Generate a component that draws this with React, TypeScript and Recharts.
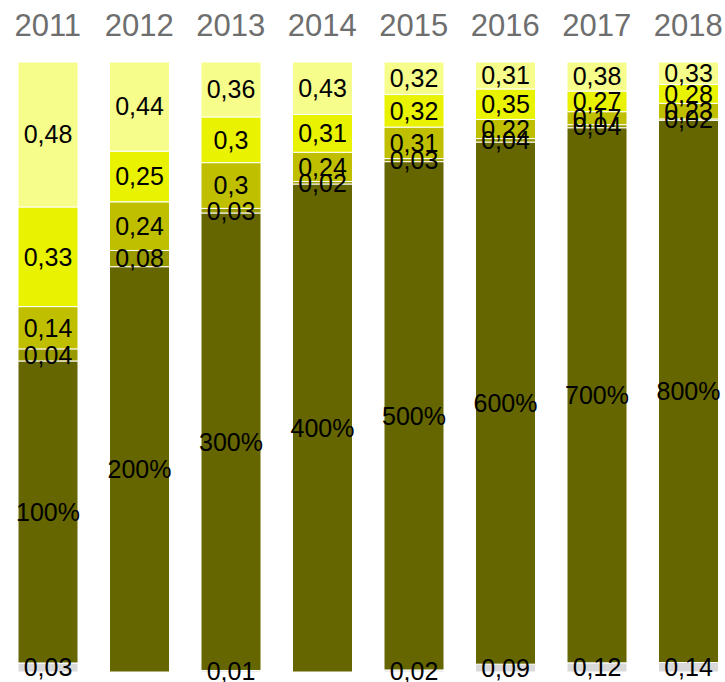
import React from "react";
import { Bar, BarChart, LabelList, XAxis, YAxis } from "recharts";

const years = ["2011", "2012", "2013", "2014", "2015", "2016", "2017", "2018"];

// stacked bottom -> top
const greyBase = [0.03, 0, 0.01, 0, 0.02, 0.09, 0.12, 0.14];
const mainShare = [1, 2, 3, 4, 5, 6, 7, 8];
const darkPart = [0.04, 0.08, 0.03, 0.02, 0.03, 0.04, 0.04, 0.02];
const olivePart = [0.14, 0.24, 0.3, 0.24, 0.31, 0.22, 0.17, 0.23];
const yellowPart = [0.33, 0.25, 0.3, 0.31, 0.32, 0.35, 0.27, 0.28];
const paleParts = [0.48, 0.44, 0.36, 0.43, 0.32, 0.31, 0.38, 0.33];

const data = years.map((year, i) => ({
  year,
  grey: greyBase[i],
  main: mainShare[i],
  dark: darkPart[i],
  olive: olivePart[i],
  yellow: yellowPart[i],
  pale: paleParts[i],
}));

const series = [
  { key: "grey", color: "#d9d9d9" },
  { key: "main", color: "#666600" },
  { key: "dark", color: "#999900" },
  { key: "olive", color: "#bfbf00" },
  { key: "yellow", color: "#e9f200" },
  { key: "pale", color: "#f6fd8b" },
];

const fmtNum = (v: any) => (v ? String(v).replace(".", ",") : "");
const fmtPct = (v: any) => (v ? `${Math.round(v * 100)}%` : "");

export default function App() {
  return (
    <div
      style={{
        position: "absolute",
        left: 0,
        top: 0,
        width: 725,
        height: 682,
        overflow: "hidden",
        background: "#fff",
      }}
    >
      <BarChart
        width={736}
        height={682}
        data={data}
        stackOffset="expand"
        barSize={60}
        margin={{ top: 0, right: 2, bottom: 10, left: 2 }}
      >
        <XAxis
          dataKey="year"
          orientation="top"
          height={62}
          axisLine={false}
          tickLine={false}
          tickMargin={20}
          interval={0}
          tick={{ fill: "#6e6e6e", fontSize: 31, fontFamily: "Liberation Sans, Arial, sans-serif" }}
        />
        <YAxis hide domain={[0, 1]} />
        {series.map((s) => (
          <Bar
            key={s.key}
            dataKey={s.key}
            stackId="a"
            fill={s.color}
            stroke="#ffffff"
            strokeWidth={1}
            isAnimationActive={false}
          >
            <LabelList
              dataKey={s.key}
              position="center"
              formatter={s.key === "main" ? fmtPct : fmtNum}
              fill="#000"
              fontSize={25}
              fontFamily="Liberation Sans, Arial, sans-serif"
            />
          </Bar>
        ))}
      </BarChart>
    </div>
  );
}
